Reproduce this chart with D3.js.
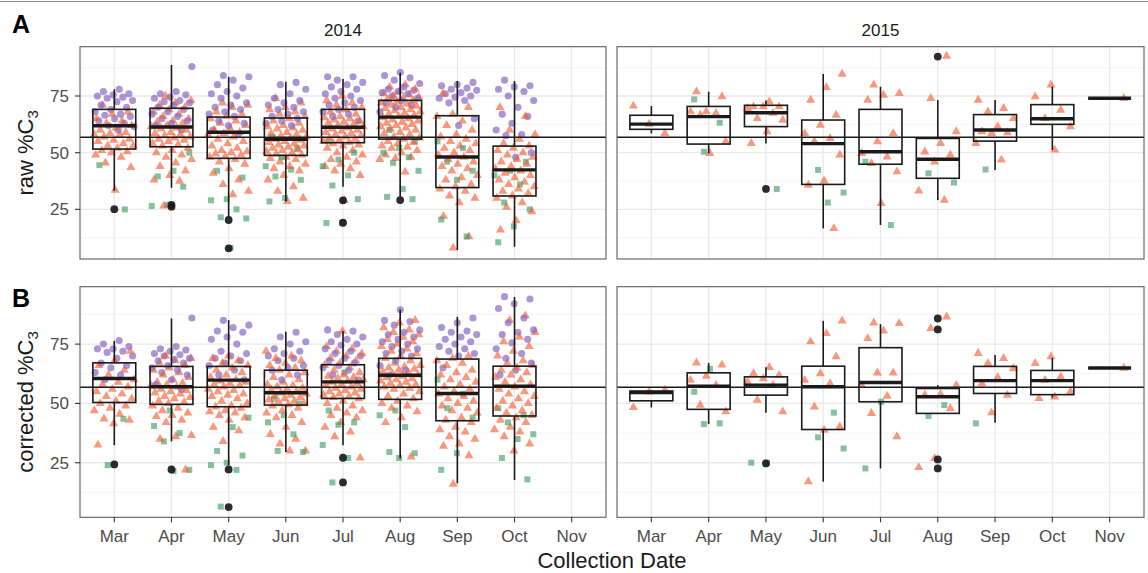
<!DOCTYPE html>
<html>
<head>
<meta charset="utf-8">
<script src="https://cdn.jsdelivr.net/npm/d3@7"></script>
<style>
  body { margin: 0; background: #fff; }
  svg { display: block; }
  text { font-family: "Liberation Sans", Arial, Helvetica, sans-serif; }
</style>
</head>
<body>
<svg id="chart" width="1148" height="573"></svg>
<script>
// ---------- categories and ticks ----------
const months = ["Mar", "Apr", "May", "Jun", "Jul", "Aug", "Sep", "Oct", "Nov"];
const years = ["2014", "2015"];
const yTicks = [25, 50, 75];
const yMinor = [12.5, 37.5, 62.5, 87.5];
const refLevel = 56.8;

// ---------- A: raw %C3, 2014 (one inner list per month, Mar..Nov) ----------
const rawCircle2014 = [
  [78, 77, 76, 75.5, 75, 74.5, 74, 73, 72.5, 71, 70, 69, 68, 67, 66.5, 66, 65, 64, 63, 62, 61.5, 60],
  [88, 77, 76, 75.5, 74.5, 74, 73, 72.5, 72, 71, 70, 69, 68, 67, 66, 65, 64, 63, 62, 60],
  [84, 83.5, 82, 80, 78.5, 77, 76, 75, 74, 72, 71, 70, 69, 68, 67, 66, 64, 63, 62, 60, 58],
  [81, 80, 78, 76, 74, 73, 72, 71, 70, 69, 68, 67, 66, 65, 64, 63, 62],
  [83.5, 83.5, 82, 81, 80, 79, 78, 77, 76, 75, 74, 73, 72, 71, 70, 69, 68, 67, 66, 64],
  [85.5, 84, 83, 82, 80.5, 79, 78, 77.5, 77, 76.5, 76, 75, 74, 73, 72, 71, 70, 68],
  [81, 80, 79.5, 78.5, 78, 77.5, 76.5, 76, 75, 74.5, 74, 73, 72, 65, 62],
  [82, 79.5, 79, 78, 77, 75, 73, 70, 67, 66, 63, 60, 58, 57.5, 50, 48],
  []
];
const rawTriangle2014 = [
  [71, 68, 67, 65, 64, 63, 62, 61, 60, 59, 58.5, 58, 58, 57, 56, 55.5, 55, 54, 53, 53, 52, 51, 50.5, 50, 49, 48, 45.5, 43.5, 33.5],
  [75, 73, 72, 71, 70, 69, 68, 67, 66, 65, 64, 63.5, 63, 62, 61.5, 61, 60.5, 60, 59, 58.5, 58, 57.5, 57, 56.5, 56, 55.5, 55, 54, 53.5, 53, 52, 51, 50, 49, 48, 47, 45.5, 44, 42, 40, 38, 37.5, 26.5],
  [72, 71, 70, 68, 67, 66, 65, 64, 63, 62, 61, 60, 59, 58.5, 58, 57, 56, 55, 54, 53, 52, 51, 50.5, 50, 49.5, 49, 48.5, 48, 47, 46, 45, 43, 41, 38, 36, 33, 31.5],
  [74, 72, 70, 69, 68, 67, 66, 65, 64, 63, 62, 61.5, 61, 60.5, 60, 59, 58.5, 58, 57.5, 57, 56.5, 56, 55.5, 55, 54.5, 54, 53.5, 53, 52.5, 52, 51.5, 51, 50.5, 50, 49.5, 49, 48, 47.5, 47, 46, 45, 44, 43, 42, 40, 38, 35, 33, 30, 28.5],
  [75, 73, 72, 71, 70, 69, 68, 67, 66, 65.5, 65, 64.5, 64, 63.5, 63, 62.5, 62, 61.5, 61, 60.5, 60, 59.5, 59, 58.5, 58, 57.5, 57, 56.5, 56, 55.5, 55, 54.5, 54, 53.5, 53, 52, 51, 50, 49, 48, 47, 46, 45, 44, 43, 42, 40, 29],
  [80, 79, 78, 77, 76, 75.5, 75, 74.5, 74, 73.5, 73, 72.5, 72, 71.5, 71, 70.5, 70, 69.5, 69, 68.5, 68, 67.5, 67, 66.5, 66, 65.5, 65, 64.5, 64, 63.5, 63, 62.5, 62, 61.5, 61, 60.5, 60, 59, 58.5, 58, 57, 56.5, 56, 55, 54.5, 54, 53, 52.5, 52, 51, 50, 49, 48, 47.5, 47, 41.5],
  [76, 70, 67, 66, 64, 62, 60, 58, 57, 56, 55, 54, 53, 52, 51, 50, 49, 48, 47, 46, 45, 44, 43, 42, 40, 39, 38, 36, 35, 34, 33, 31, 30, 28, 22, 13, 8],
  [70, 66, 60, 58, 56, 54, 53, 52, 51, 50, 49, 48, 47, 46, 45, 44, 43, 42, 41, 40, 39, 38, 37, 36, 35, 34, 33, 32, 31, 30, 28, 26, 24, 20, 16],
  []
];
const rawSquare2014 = [
  [44.5, 25],
  [50, 42, 39.5, 35, 27, 26.5],
  [42, 39, 29.5, 29, 25, 21.5, 21, 8],
  [57, 52, 48, 44, 42.5, 39.5, 38, 30, 28.5],
  [55, 50, 47, 44, 40, 35.5, 29.5, 19, 19],
  [60, 55, 52, 50, 48, 45.5, 42, 34, 30.5, 29.5],
  [55, 52, 46, 42, 38, 20.5, 13],
  [46, 42, 40, 36, 28, 25, 17.5, 10.5],
  []
];
// [lower whisker, Q1, median, Q3, upper whisker]
const rawBox2014 = [
  [33.2, 51.6, 61.9, 69.1, 78],
  [34.5, 52.6, 61.3, 69.6, 88.7],
  [21.5, 47.5, 59.0, 65.7, 83.5],
  [28.5, 48.8, 55.9, 65.3, 81.3],
  [35, 54.4, 61.2, 69.1, 82.5],
  [30.5, 56.0, 65.7, 73.1, 85.3],
  [7.1, 34.6, 48.1, 66.3, 81.6],
  [8.5, 30.9, 42.4, 52.9, 81.6],
  null
];
const rawOutlier2014 = [[25.1], [26.2, 27], [20.3, 7.8], [], [29, 19.1], [29.1], [], [], []];

// ---------- A: raw %C3, 2015 ----------
const rawCircle2015 = [[], [], [], [], [], [], [], [], []];
const rawTriangle2015 = [
  [58.5, 62.6, 70.6],
  [76.9, 74.7, 68.1, 68.1, 67.4, 66.6, 54.9, 49.7],
  [72.5, 70.3, 70.3, 70.3, 69.6, 67.4, 65.1, 64.4, 59.3, 54.1],
  [84.7, 78.8, 73.2, 66.6, 62.2, 58.5, 56.3, 54.9, 49.0, 37.6, 35.7, 16.6],
  [79.9, 76.2, 75.4, 73.2, 58.5, 54.9, 49.7, 48.2, 45.3, 41.6, 27.6],
  [92.6, 74, 59.3, 54.1, 50.4, 49, 46, 33.2, 29.1],
  [73.2, 69.6, 68.1, 65.1, 61.5, 59.3, 58.8, 58.5, 54.1, 46.8],
  [79.9, 74.7, 68.8, 65.1, 61.5, 51.2],
  [74]
];
const rawSquare2015 = [
  [], [73.5, 63.2, 50.4], [34], [42.4, 32.4, 28], [46, 18.1], [40.9, 36.8], [42.6], [], []
];
const rawBox2015 = [
  [58.5, 60.3, 62.6, 66.5, 70.6],
  [49.7, 53.8, 65.9, 70.4, 76.9],
  [54.1, 61.5, 67.6, 70.9, 73],
  [16.6, 36.0, 54.0, 64.4, 84.7],
  [18.1, 44.9, 50.4, 69.1, 79.1],
  [29.1, 38.7, 47.1, 56.3, 73.2],
  [42.4, 55.1, 60.0, 66.8, 73.2],
  [51.2, 62.5, 65.0, 71.2, 79.1],
  [74, 74, 74, 74, 74]
];
const rawOutlier2015 = [[], [], [34], [], [], [92.4], [], [], []];

// ---------- B: corrected %C3, 2014 ----------
const corCircle2014 = [
  [76.5, 75, 74, 73, 73, 72, 71.5, 70, 69, 67, 66, 65, 63, 62, 60],
  [86, 74, 73, 72.5, 72, 71, 70.5, 70, 69, 68.5, 68, 67, 66, 65, 64, 63, 62, 60, 58, 56],
  [85, 83, 82, 80.5, 80, 78, 77, 75, 72, 71, 70, 69, 68, 67, 66, 64, 62, 60],
  [80, 78, 76, 75, 73, 72, 71, 70, 69, 68, 66, 65, 64, 62, 60],
  [81, 80.5, 79, 78, 77, 76, 75, 74.5, 73, 72, 71, 70, 69, 68, 67, 66, 65, 64, 62, 60],
  [89.5, 85, 84.5, 83, 81, 80, 79, 78, 77, 76, 75, 74, 73, 72, 71, 70, 68, 66, 64, 62],
  [86, 84, 82, 80.5, 80, 79, 78, 77, 76, 75, 74, 73, 72, 71, 70, 65],
  [95, 94, 92, 90, 86, 84, 81, 80, 79, 77, 75.5, 73, 71, 69, 67, 64, 62],
  []
];
const corTriangle2014 = [
  [72, 68, 66, 64, 62, 60, 59, 58, 57, 56, 55, 54, 53, 52, 51, 50, 49, 48, 47, 45.5, 43.5, 43, 41.5, 32.5],
  [70, 69, 68, 67, 66, 65, 64, 63, 62, 61, 60, 59, 58.5, 58, 57.5, 57, 56, 55.5, 55, 54.5, 54, 53, 52.5, 52, 51, 50.5, 50, 49, 48, 47, 46, 45, 44.5, 43, 42, 36.5, 36, 35, 22],
  [70, 69, 68, 67, 66, 65, 64, 63, 62, 61, 60, 59.5, 59, 58.5, 58, 57.5, 57, 56, 55.5, 55, 54, 53.5, 53, 52, 51, 50, 49, 48.5, 48, 47, 46.5, 46, 45, 44, 43, 40, 38.5, 34],
  [72, 70, 69, 68, 67, 66, 65, 64, 63, 62, 61, 60, 59, 58, 57.5, 57, 56.5, 56, 55.5, 55, 54.5, 54, 53.5, 53, 52.5, 52, 51.5, 51, 50.5, 50, 49.5, 49, 48, 47, 46, 45, 44, 42, 40, 37, 35, 33, 30, 30],
  [80.5, 74, 73, 72, 71, 70, 69, 68, 67, 66, 65, 64, 63, 62, 61.5, 61, 60.5, 60, 59.5, 59, 58.5, 58, 57.5, 57, 56.5, 56, 55.5, 55, 54.5, 54, 53.5, 53, 52.5, 52, 51, 50, 49, 48, 47, 46, 45, 44, 42, 40, 38, 36, 27],
  [85, 84, 82, 81, 80, 79, 78, 77, 76, 75, 74, 73, 72, 71, 70, 69, 68, 67, 66, 65.5, 65, 64.5, 64, 63.5, 63, 62.5, 62, 61.5, 61, 60.5, 60, 59.5, 59, 58.5, 58, 57.5, 57, 56.5, 56, 55, 54, 53, 52, 51, 50, 49, 48, 46.5, 44, 42, 27.5],
  [70, 69, 68, 67, 66, 64, 63, 62, 61, 60, 59, 58, 57, 56, 55, 54, 53, 52, 51, 50, 49, 48, 47, 46, 44, 43, 42, 40, 39, 38, 36, 35, 33, 32, 28, 16],
  [87, 85, 80, 78, 76, 74, 72, 70, 68, 67, 66, 65, 64, 63, 62, 61, 60, 59, 58, 57, 56, 55, 54, 53, 52, 51, 50, 49, 48, 47, 46, 45, 44, 43, 42, 40, 39, 38, 36, 33, 30],
  []
];
const corSquare2014 = [
  [43.5, 24],
  [47, 40.5, 37.5, 34, 22, 21.5],
  [44, 40, 30, 28, 25, 24, 22, 6.5],
  [52, 50, 45, 42, 37, 30, 29.5],
  [63, 47, 42, 41, 32.5, 27, 16.7],
  [47, 45, 40, 29.5, 29, 27],
  [60, 54, 48, 44, 29, 22],
  [48, 45, 42, 37, 35, 27, 18],
  []
];
const corBox2014 = [
  [32.4, 50.4, 60.5, 67.1, 76.4],
  [34, 49.6, 57.0, 65.6, 85.8],
  [24, 48.6, 59.8, 65.6, 85.1],
  [29.5, 49.3, 54.5, 64.0, 80.2],
  [32.4, 52.1, 59.1, 66.3, 80.5],
  [26.8, 51.7, 61.9, 69.0, 89.6],
  [16.3, 42.7, 54.2, 68.7, 86.5],
  [17.7, 44.7, 57.3, 65.7, 94.9],
  null
];
const corOutlier2014 = [[24.3], [22.2], [22.2, 6.3], [], [27.1, 16.7], [], [], [], []];

// ---------- B: corrected %C3, 2015 ----------
const corCircle2015 = [[], [], [], [], [], [], [], [], []];
const corTriangle2015 = [
  [55.6, 54.9, 48.3],
  [67.1, 66.2, 61.5, 59.8, 57.7, 49.3, 46.5],
  [65.2, 62.6, 61.9, 60.5, 59.1, 57.7, 51.4, 46.5],
  [84.8, 79.5, 76.0, 69.7, 62.6, 59.8, 58.4, 48.6, 40.2, 38.8, 17.0],
  [84.0, 83.7, 80.6, 77.4, 62.9, 62.9, 57.7, 53.1, 45.8, 36.0],
  [86.5, 81.6, 57.7, 53.9, 53.5, 47.9, 26.8, 23.0],
  [71.1, 69.0, 66.9, 64.7, 61.0, 58.4, 53.5, 46.1],
  [69.7, 66.9, 61.2, 59.8, 54.9, 52.8, 52.1],
  [64.9]
];
const corSquare2015 = [
  [], [64.6, 54.9, 41.6, 41.3], [25, 25], [46.1, 35.7, 31.0], [50.7, 22.6], [49.3, 44.7], [41.6], [], []
];
const corBox2015 = [
  [48.3, 51.1, 54.6, 55.2, 55.6],
  [41.3, 47.5, 57.3, 62.9, 67.1],
  [46.1, 53.5, 57.7, 61.2, 65.2],
  [17.0, 39.0, 57.0, 65.7, 84.8],
  [22.6, 50.7, 58.8, 73.5, 83.4],
  [45.5, 45.8, 52.8, 56.3, 57.7],
  [41.9, 54.2, 59.6, 65.6, 70.4],
  [52.5, 53.7, 59.6, 63.9, 69.2],
  [64.9, 64.9, 64.9, 64.9, 64.9]
];
const corOutlier2015 = [[], [], [24.7], [], [], [85.8, 81.2, 26.4, 22.6], [], [], []];

// ---------- layout ----------
const svg = d3.select("#chart");
const colX = [[80, 606], [617, 1144]];
const rowY = [[46.7, 259], [286.7, 517.3]];
const rowDomain = [[3.1, 96.75], [2.0, 99.2]];
const rowTitle = ["raw %C", "corrected %C"];
const rowTag = ["A", "B"];

const colors = {
  circle: "#8a6cc1",
  triangle: "#f15a2e",
  square: "#3d9a62",
  outlier: "#1a1a1a",
  ink: "#1a1a1a"
};
const opacity = { circle: 0.72, triangle: 0.62, square: 0.62 };
const shapes = {
  circle: d3.symbol().type(d3.symbolCircle).size(40),
  triangle: d3.symbol().type(d3.symbolTriangle).size(36),
  square: d3.symbol().type(d3.symbolSquare).size(36)
};

const panels = [
  { row: 0, col: 0, circle: rawCircle2014, triangle: rawTriangle2014, square: rawSquare2014, box: rawBox2014, out: rawOutlier2014 },
  { row: 0, col: 1, circle: rawCircle2015, triangle: rawTriangle2015, square: rawSquare2015, box: rawBox2015, out: rawOutlier2015 },
  { row: 1, col: 0, circle: corCircle2014, triangle: corTriangle2014, square: corSquare2014, box: corBox2014, out: corOutlier2014 },
  { row: 1, col: 1, circle: corCircle2015, triangle: corTriangle2015, square: corSquare2015, box: corBox2015, out: corOutlier2015 }
];

// thin rule along the very top of the figure
svg.append("line").attr("x1", 0).attr("x2", 1148).attr("y1", 1.5).attr("y2", 1.5)
  .attr("stroke", "#8c8c8c").attr("stroke-width", 1.2);

panels.forEach(p => {
  const [x0, x1] = colX[p.col];
  const [yTop, yBot] = rowY[p.row];
  const x = d3.scalePoint().domain(months).range([x0, x1]).padding(0.6);
  const y = d3.scaleLinear().domain(rowDomain[p.row]).range([yBot, yTop]);
  const step = x.step();
  const g = svg.append("g");

  // grid
  g.selectAll(".minor").data(yMinor).join("line")
    .attr("x1", x0).attr("x2", x1).attr("y1", d => y(d)).attr("y2", d => y(d))
    .attr("stroke", "#f3f3f3").attr("stroke-width", 0.8);
  g.selectAll(".major").data(yTicks).join("line")
    .attr("x1", x0).attr("x2", x1).attr("y1", d => y(d)).attr("y2", d => y(d))
    .attr("stroke", "#e9e9e9").attr("stroke-width", 1.3);
  g.selectAll(".vgrid").data(months).join("line")
    .attr("x1", d => x(d)).attr("x2", d => x(d)).attr("y1", yTop).attr("y2", yBot)
    .attr("stroke", "#e9e9e9").attr("stroke-width", 1.3);

  // jittered samples, spread across each month with a golden-ratio sequence
  const pts = [];
  months.forEach((m, i) => {
    const group = [];
    ["circle", "triangle", "square"].forEach(kind => {
      (p[kind][i] || []).forEach(v => group.push({ m, v, kind }));
    });
    group.forEach((d, k) => {
      const f = ((k + 1) * 0.6180339887 + i * 0.377 + p.col * 0.21) % 1;
      d.dx = (f * 2 - 1) * 0.36 * step;
      d.order = ((k + 1) * 0.7548776662) % 1;
      pts.push(d);
    });
  });
  // interleave the three kinds so no series sits entirely on top
  pts.sort((a, b) => a.order - b.order);
  g.selectAll(".pt").data(pts).join("path")
    .attr("d", d => shapes[d.kind]())
    .attr("transform", d => `translate(${x(d.m) + d.dx},${y(d.v)})`)
    .attr("fill", d => colors[d.kind])
    .attr("fill-opacity", d => opacity[d.kind]);

  // box plots
  const half = 0.375 * step;
  const boxes = months.map((m, i) => ({ m, s: p.box[i] })).filter(d => d.s);
  const bg = g.selectAll(".box").data(boxes).join("g");
  bg.append("line")
    .attr("x1", d => x(d.m)).attr("x2", d => x(d.m))
    .attr("y1", d => y(d.s[3])).attr("y2", d => y(d.s[4]))
    .attr("stroke", colors.ink).attr("stroke-width", 1.6);
  bg.append("line")
    .attr("x1", d => x(d.m)).attr("x2", d => x(d.m))
    .attr("y1", d => y(d.s[1])).attr("y2", d => y(d.s[0]))
    .attr("stroke", colors.ink).attr("stroke-width", 1.6);
  bg.append("rect")
    .attr("x", d => x(d.m) - half).attr("width", 2 * half)
    .attr("y", d => y(d.s[3])).attr("height", d => y(d.s[1]) - y(d.s[3]))
    .attr("fill", "none").attr("stroke", colors.ink).attr("stroke-width", 1.6);
  bg.append("line")
    .attr("x1", d => x(d.m) - half).attr("x2", d => x(d.m) + half)
    .attr("y1", d => y(d.s[2])).attr("y2", d => y(d.s[2]))
    .attr("stroke", colors.ink).attr("stroke-width", 3.4);

  // outliers
  const outs = [];
  months.forEach((m, i) => (p.out[i] || []).forEach(v => outs.push({ m, v })));
  g.selectAll(".out").data(outs).join("circle")
    .attr("cx", d => x(d.m)).attr("cy", d => y(d.v)).attr("r", 3.9)
    .attr("fill", colors.outlier).attr("fill-opacity", 0.92);

  // reference level
  g.append("line").attr("x1", x0).attr("x2", x1)
    .attr("y1", y(refLevel)).attr("y2", y(refLevel))
    .attr("stroke", colors.ink).attr("stroke-width", 1.5);

  // panel border
  g.append("rect").attr("x", x0).attr("y", yTop).attr("width", x1 - x0).attr("height", yBot - yTop)
    .attr("fill", "none").attr("stroke", "#5c5c5c").attr("stroke-width", 1.1);

  // y axis on the left column
  if (p.col === 0) {
    const ya = g.append("g");
    ya.selectAll("line").data(yTicks).join("line")
      .attr("x1", x0 - 5).attr("x2", x0).attr("y1", d => y(d)).attr("y2", d => y(d))
      .attr("stroke", "#333").attr("stroke-width", 1.1);
    ya.selectAll("text").data(yTicks).join("text")
      .attr("x", x0 - 11).attr("y", d => y(d)).attr("dy", "0.35em")
      .attr("text-anchor", "end").attr("font-size", 17).attr("fill", "#4d4d4d")
      .text(d => d);

    const t = svg.append("text")
      .attr("transform", `translate(33,${(yTop + yBot) / 2}) rotate(-90)`)
      .attr("text-anchor", "middle").attr("font-size", 22).attr("fill", colors.ink);
    t.append("tspan").text(rowTitle[p.row]);
    t.append("tspan").attr("font-size", 15).attr("dy", 5).text("3");

    svg.append("text").attr("x", 12).attr("y", p.row === 0 ? 33 : 307)
      .attr("font-size", 25).attr("font-weight", "bold").attr("fill", "#000")
      .text(rowTag[p.row]);
  }

  // facet strip on the top row
  if (p.row === 0) {
    svg.append("text").attr("x", (x0 + x1) / 2).attr("y", 36)
      .attr("text-anchor", "middle").attr("font-size", 17).attr("fill", colors.ink)
      .text(years[p.col]);
  }

  // x axis on the bottom row
  if (p.row === 1) {
    const xa = g.append("g");
    xa.selectAll("line").data(months).join("line")
      .attr("x1", d => x(d)).attr("x2", d => x(d)).attr("y1", yBot).attr("y2", yBot + 5)
      .attr("stroke", "#333").attr("stroke-width", 1.1);
    xa.selectAll("text").data(months).join("text")
      .attr("x", d => x(d)).attr("y", 541.5)
      .attr("text-anchor", "middle").attr("font-size", 17).attr("fill", "#4d4d4d")
      .text(d => d);
  }
});

svg.append("text").attr("x", (colX[0][0] + colX[1][1]) / 2).attr("y", 567.5)
  .attr("text-anchor", "middle").attr("font-size", 22).attr("fill", colors.ink)
  .text("Collection Date");
</script>
</body>
</html>
